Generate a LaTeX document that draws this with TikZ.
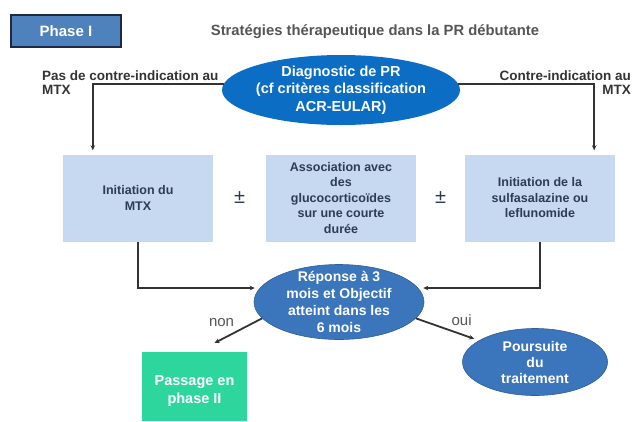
\documentclass[tikz,border=0pt]{standalone}
\usepackage{fontspec}
\setmainfont{Liberation Sans}
\usetikzlibrary{arrows.meta,positioning,calc,shapes.geometric}
\definecolor{phaseblue}{HTML}{4F81BD}
\definecolor{phaseedge}{HTML}{1C2A48}
\definecolor{diagblue}{HTML}{0B6DC3}
\definecolor{repblue}{HTML}{3B75BC}
\definecolor{boxlight}{HTML}{C6D9F1}
\definecolor{boxtext}{HTML}{2E3B55}
\definecolor{passgreen}{HTML}{2DD69C}
\definecolor{linegray}{HTML}{333333}
\definecolor{titlegray}{HTML}{555555}
\tikzset{
  >={Stealth[length=5pt,width=4.5pt]},
  % formes
  phasebox/.style={draw=phaseedge,fill=phaseblue,line width=2pt,minimum width=110pt,
                   minimum height=32pt,text=white,font=\fontsize{15}{17}\selectfont\bfseries},
  trtbox/.style={fill=boxlight,minimum width=150pt,minimum height=87pt,inner sep=0pt,
                 text=boxtext,align=center,font=\fontsize{12.5}{15.5}\selectfont\bfseries},
  oval/.style={ellipse,inner sep=0pt},
  wtxt/.style={text=white,align=center,inner sep=0pt,font=\fontsize{14}{17}\selectfont\bfseries},
  side/.style={text=linegray,inner sep=0pt,font=\fontsize{13.5}{14}\selectfont\bfseries},
  pm/.style={text=boxtext,font=\fontsize{20}{22}\selectfont},
  % liens
  link/.style={->,draw=linegray,line width=1.8pt},
  lbl/.style={text=titlegray,font=\fontsize{15}{17}\selectfont},
}
\begin{document}
\begin{tikzpicture}[x=1pt,y=-1pt]
  \useasboundingbox (0,0) rectangle (632,421);
  \node[phasebox] (phase) at (66,31) {Phase I};
  \node[text=titlegray,font=\fontsize{14.8}{17}\selectfont\bfseries] (title) at (375,32)
    {Stratégies thérapeutique dans la PR débutante};
  % diagnostic
  \node[oval,fill=diagblue,minimum width=238pt,minimum height=70pt] (diag) at (341,90) {};
  \node[wtxt,font=\fontsize{14.5}{17.5}\selectfont\bfseries] (diagtxt) at (diag)
    {Diagnostic de PR\\(cf critères classification\\ACR-EULAR)};
  \node[side,anchor=west,align=left] (noci) at (42,83) {Pas de contre-indication au\\MTX};
  \node[side,anchor=east,align=right] (ci) at (631,83) {Contre-indication au\\MTX};
  % traitements
  \node[trtbox] (mtx) at (138,198) {Initiation du\\MTX};
  \node[trtbox] (assoc) at (341,198) {Association avec\\des\\glucocorticoïdes\\sur une courte\\durée};
  \node[trtbox] (sulfa) at (540,198) {Initiation de la\\sulfasalazine ou\\leflunomide};
  \node[pm] (pm1) at ($(mtx.east)!0.5!(assoc.west)$) {±};
  \node[pm] (pm2) at ($(assoc.east)!0.5!(sulfa.west)$) {±};
  % réponse
  \node[oval,fill=repblue,draw=repblue!80!black,line width=0.6pt,minimum width=170pt,
        minimum height=75pt] (rep) at (339,302) {};
  \node[wtxt] (reptxt) at (rep) {Réponse à 3\\mois et Objectif\\atteint dans les\\6 mois};
  \node[oval,fill=repblue,draw=repblue!80!black,line width=0.6pt,minimum width=145pt,
        minimum height=67pt] (pours) at (535,362) {};
  \node[wtxt,font=\fontsize{14}{16}\selectfont\bfseries] (pourstxt) at (pours) {Poursuite\\du\\traitement};
  \node[fill=passgreen,minimum width=105pt,minimum height=69pt,anchor=north] (pass) at (194.5,352) {};
  \node[wtxt,font=\fontsize{14.5}{18}\selectfont\bfseries] (passtxt) at ([yshift=-4pt]pass.center)
    {Passage en\\phase II};
  % fleches
  \draw[link,shorten >=4pt] (diag.177) -| ([xshift=30pt]mtx.north west);
  \draw[link,shorten >=4pt] (diag.3) -| ([xshift=-21pt]sulfa.north east);
  \draw[link,shorten >=5pt] (mtx.south) |- (rep.170);
  \draw[link,shorten >=5pt] (sulfa.south) |- (rep.10);
  \draw[link] (rep.192) -- node[lbl,above left] {non} ([xshift=20pt,yshift=9pt]pass.north);
  \draw[link,shorten >=5pt] (rep.348) -- node[lbl,above right] {oui} (pours.159);
\end{tikzpicture}
\end{document}
